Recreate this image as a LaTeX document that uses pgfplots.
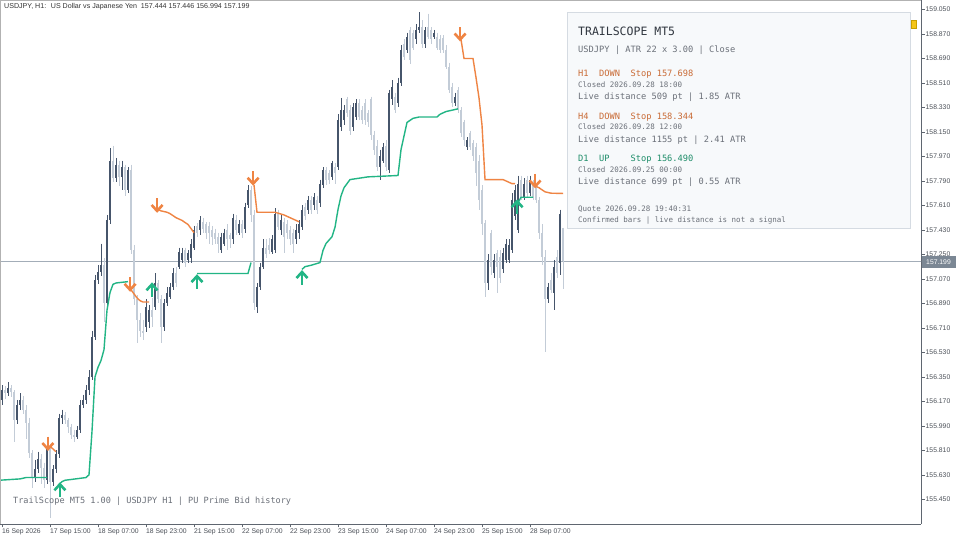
\documentclass[border=0pt]{standalone}
\usepackage{pgfplots}
\pgfplotsset{compat=1.18}
\usepackage{pgfplotstable}
\usepackage{fontspec}
\setmainfont{Liberation Sans}
\newfontfamily\mono{DejaVu Sans Mono}
\definecolor{bull}{HTML}{46556B}
\definecolor{bear}{HTML}{C3CCD7}
\definecolor{trailup}{HTML}{22B585}
\definecolor{traildn}{HTML}{EF8443}
\definecolor{pricecol}{HTML}{A3ADB8}
\definecolor{axiscol}{HTML}{5F6670}
\definecolor{labelcol}{HTML}{4A4F57}
\definecolor{panelfill}{HTML}{F7F9FB}
\definecolor{panelline}{HTML}{D5DBE2}
\definecolor{ptitle}{HTML}{30363F}
\definecolor{pgrey}{HTML}{6B7079}
\definecolor{porange}{HTML}{C96B36}
\definecolor{pgreen}{HTML}{1E8D69}
\definecolor{pricebox}{HTML}{7B8794}
\definecolor{ymark}{HTML}{F5C518}
\definecolor{ymarkd}{HTML}{C8A000}

\pgfdeclareplotmark{dnarrow}{%
  \pgfsetlinewidth{2.6pt}%
  \pgfpathmoveto{\pgfqpoint{0pt}{7pt}}%
  \pgfpathlineto{\pgfqpoint{0pt}{-5pt}}%
  \pgfusepathqstroke
  \pgfpathmoveto{\pgfqpoint{-5.5pt}{0.5pt}}%
  \pgfpathlineto{\pgfqpoint{0pt}{-5.5pt}}%
  \pgfpathlineto{\pgfqpoint{5.5pt}{0.5pt}}%
  \pgfusepathqstroke}
\pgfdeclareplotmark{uparrow}{%
  \pgfsetlinewidth{2.6pt}%
  \pgfpathmoveto{\pgfqpoint{0pt}{-7pt}}%
  \pgfpathlineto{\pgfqpoint{0pt}{5pt}}%
  \pgfusepathqstroke
  \pgfpathmoveto{\pgfqpoint{-5.5pt}{-0.5pt}}%
  \pgfpathlineto{\pgfqpoint{0pt}{5.5pt}}%
  \pgfpathlineto{\pgfqpoint{5.5pt}{-0.5pt}}%
  \pgfusepathqstroke}
\pgfdeclareplotmark{nothing}{}

\pgfplotstableread{
i o h l c
0 156.18 156.29 156.14 156.25
1 156.25 156.28 156.19 156.23
2 156.23 156.31 156.21 156.27
3 156.27 156.29 156.20 156.24
4 156.24 156.25 155.87 156.03
5 156.03 156.18 156.00 156.14
6 156.14 156.23 156.11 156.18
7 156.18 156.21 156.08 156.11
8 156.11 156.14 155.89 156.01
9 156.01 156.05 155.75 155.79
10 155.79 155.81 155.53 155.61
11 155.61 155.74 155.58 155.67
12 155.67 155.80 155.64 155.75
13 155.75 155.78 155.56 155.68
14 155.68 155.72 155.53 155.59
15 155.59 155.87 155.56 155.83
16 155.83 155.86 155.31 155.58
17 155.58 155.70 155.55 155.67
18 155.67 155.81 155.64 155.78
19 155.78 156.08 155.75 156.05
20 156.05 156.11 156.00 156.07
21 156.07 156.09 156.00 156.03
22 156.03 156.05 155.94 155.98
23 155.98 156.00 155.89 155.92
24 155.92 155.96 155.87 155.91
25 155.91 155.99 155.89 155.96
26 155.96 156.18 155.94 156.14
27 156.14 156.22 156.12 156.18
28 156.18 156.29 156.15 156.25
29 156.25 156.40 156.22 156.35
30 156.35 156.69 156.33 156.64
31 156.64 157.10 156.62 157.06
32 157.06 157.17 157.03 157.12
33 157.12 157.33 157.09 157.17
34 157.17 157.22 156.75 156.89
35 156.89 157.54 156.87 157.50
36 157.50 158.03 157.47 157.94
37 157.94 158.05 157.78 157.81
38 157.81 157.96 157.78 157.91
39 157.91 157.94 157.75 157.82
40 157.82 157.94 157.72 157.89
41 157.89 157.91 157.68 157.72
42 157.72 157.89 157.70 157.87
43 157.87 157.91 157.25 157.28
44 157.28 157.32 156.88 156.92
45 156.92 156.95 156.60 156.77
46 156.77 156.82 156.64 156.69
47 156.69 156.77 156.62 156.67
48 156.72 156.92 156.68 156.86
49 156.75 156.88 156.71 156.84
50 156.84 156.93 156.72 156.79
51 156.86 157.11 156.84 157.04
52 157.04 157.06 156.89 156.92
53 156.92 156.95 156.60 156.72
54 156.72 156.92 156.69 156.89
55 156.89 157.01 156.87 156.97
56 156.94 157.04 156.92 157.01
57 157.01 157.15 156.99 157.11
58 157.11 157.16 157.01 157.04
59 157.16 157.30 157.14 157.27
60 157.21 157.30 157.19 157.26
61 157.28 157.30 157.16 157.19
62 157.21 157.28 157.19 157.26
63 157.22 157.36 157.19 157.33
64 157.30 157.46 157.28 157.43
65 157.46 157.48 157.38 157.41
66 157.43 157.53 157.39 157.50
67 157.49 157.52 157.41 157.44
68 157.47 157.49 157.36 157.41
69 157.46 157.49 157.33 157.41
70 157.43 157.46 157.32 157.38
71 157.41 157.44 157.33 157.36
72 157.38 157.41 157.26 157.33
73 157.28 157.41 157.26 157.38
74 157.33 157.44 157.31 157.41
75 157.43 157.47 157.28 157.36
76 157.39 157.41 157.30 157.36
77 157.36 157.55 157.33 157.52
78 157.50 157.54 157.39 157.43
79 157.41 157.50 157.39 157.47
80 157.47 157.50 157.37 157.41
81 157.44 157.63 157.41 157.60
82 157.61 157.76 157.59 157.72
83 157.72 157.75 157.49 157.54
84 157.54 157.58 156.84 156.89
85 156.86 157.04 156.82 157.01
86 157.01 157.19 156.99 157.16
87 157.16 157.36 157.14 157.30
88 157.30 157.36 157.22 157.25
89 157.32 157.37 157.25 157.28
90 157.27 157.39 157.25 157.36
91 157.28 157.59 157.26 157.55
92 157.55 157.58 157.43 157.45
93 157.43 157.54 157.39 157.50
94 157.49 157.52 157.26 157.38
95 157.47 157.50 157.36 157.41
96 157.43 157.46 157.32 157.36
97 157.41 157.44 157.26 157.33
98 157.36 157.47 157.33 157.43
99 157.41 157.50 157.36 157.47
100 157.45 157.61 157.43 157.58
101 157.60 157.63 157.50 157.53
102 157.58 157.68 157.55 157.65
103 157.65 157.68 157.55 157.58
104 157.61 157.70 157.58 157.67
105 157.65 157.68 157.55 157.58
106 157.63 157.80 157.60 157.77
107 157.76 157.89 157.74 157.87
108 157.87 157.89 157.76 157.80
109 157.85 157.87 157.77 157.80
110 157.82 157.94 157.80 157.92
111 157.89 157.92 157.77 157.85
112 157.89 158.28 157.87 158.24
113 158.19 158.40 158.16 158.31
114 158.24 158.35 158.20 158.31
115 158.39 158.41 158.26 158.29
116 158.31 158.35 158.13 158.16
117 158.19 158.36 158.16 158.33
118 158.26 158.39 158.24 158.36
119 158.36 158.39 158.24 158.26
120 158.31 158.34 158.21 158.24
121 158.36 158.39 158.20 158.24
122 158.29 158.31 158.19 158.22
123 158.39 158.41 158.09 158.13
124 158.13 158.16 157.98 158.02
125 158.05 158.09 157.86 157.89
126 157.89 158.02 157.80 157.97
127 157.94 158.07 157.92 158.04
128 158.05 158.09 157.86 157.89
129 157.87 158.46 157.85 158.44
130 158.39 158.53 158.35 158.48
131 158.41 158.44 158.29 158.31
132 158.36 158.55 158.33 158.51
133 158.51 158.79 158.49 158.75
134 158.80 158.83 158.68 158.70
135 158.75 158.88 158.73 158.85
136 158.90 158.92 158.65 158.68
137 158.88 158.90 158.75 158.77
138 158.83 158.94 158.80 158.90
139 158.90 159.03 158.88 158.92
140 158.92 158.97 158.77 158.80
141 158.80 158.92 158.77 158.90
142 158.92 159.02 158.83 158.85
143 158.90 158.92 158.80 158.83
144 158.85 158.90 158.83 158.88
145 158.85 158.88 158.75 158.77
146 158.83 158.86 158.73 158.75
147 158.84 158.86 158.73 158.75
148 158.75 158.79 158.61 158.63
149 158.63 158.66 158.44 158.46
150 158.48 158.51 158.33 158.36
151 158.36 158.44 158.34 158.41
152 158.46 158.48 158.29 158.31
153 158.31 158.33 158.11 158.14
154 158.22 158.24 158.05 158.09
155 158.04 158.11 158.02 158.09
156 158.14 158.16 158.02 158.04
157 158.07 158.09 157.94 157.97
158 158.04 158.07 157.75 157.85
159 157.94 157.98 157.58 157.65
160 157.72 157.76 157.39 157.47
161 157.48 157.50 156.94 157.04
162 157.04 157.25 156.99 157.21
163 157.41 157.43 157.10 157.16
164 157.11 157.25 157.08 157.21
165 157.26 157.28 156.97 157.16
166 157.23 157.28 157.04 157.08
167 157.14 157.30 157.11 157.26
168 157.21 157.36 157.19 157.33
169 157.21 157.36 157.19 157.32
170 157.28 157.70 157.26 157.65
171 157.53 157.76 157.50 157.72
172 157.43 157.83 157.41 157.77
173 157.80 157.83 157.65 157.67
174 157.67 157.81 157.65 157.77
175 157.80 157.83 157.67 157.70
176 157.70 157.83 157.68 157.80
177 157.77 157.80 157.65 157.67
178 157.75 157.77 157.63 157.65
179 157.65 157.67 157.36 157.41
180 157.41 157.47 157.17 157.23
181 157.23 157.28 156.53 156.92
182 156.92 157.04 156.89 157.01
183 157.06 157.11 156.97 156.99
184 156.97 157.21 156.84 157.16
185 157.23 157.28 157.08 157.11
186 157.19 157.58 157.10 157.55
187 157.444 157.446 156.994 157.199
}\candles

\pgfplotsset{candle/.style={only marks, mark=nothing, forget plot}}

\begin{document}
\begin{tikzpicture}[x=1pt,y=1pt]
\useasboundingbox (0,0) rectangle (960,540);
\fill[white] (0,0) rectangle (960,540);
\begin{axis}[
  at={(0pt,16pt)}, anchor=south west,
  scale only axis, width=921pt, height=524pt,
  xmin=-0.667, xmax=306.33, ymin=155.2686, ymax=159.12,
  axis x line*=bottom, axis y line*=right,
  axis line style={-, draw=axiscol, line width=0.8pt},
  tick align=outside, major tick length=3.5pt,
  tick style={draw=axiscol, line width=0.6pt},
  xtick={0,16,32,48,64,80,96,112,128,144,160,176},
  xticklabels={16 Sep 2026,17 Sep 15:00,18 Sep 07:00,18 Sep 23:00,21 Sep 15:00,22 Sep 07:00,22 Sep 23:00,23 Sep 15:00,24 Sep 07:00,24 Sep 23:00,25 Sep 15:00,28 Sep 07:00},
  xticklabel style={font=\fontsize{6.8}{8}\selectfont, text=labelcol, anchor=north west, inner sep=0pt, yshift=-1pt},
  ytick={155.45,155.63,155.81,155.99,156.17,156.35,156.53,156.71,156.89,157.07,157.25,157.43,157.61,157.79,157.97,158.15,158.33,158.51,158.69,158.87,159.05},
  yticklabel pos=right,
  yticklabel style={font=\fontsize{6.8}{8}\selectfont, text=labelcol, anchor=west, inner sep=0pt, xshift=1pt,
    /pgf/number format/.cd, fixed, fixed zerofill, precision=3, 1000 sep={}, assume math mode=true},
  clip=true,
]
% current price line
\addplot[pricecol, line width=0.8pt, forget plot] coordinates {(-1,157.199) (307,157.199)};

% bear candles
\addplot[bear, candle,
  restrict expr to domain={\thisrow{c}-\thisrow{o}}{-10:0},
  error bars/.cd, y dir=minus, y explicit, error mark=none,
  error bar style={line width=0.9pt, draw=bear}]
  table[x=i, y=h, y error minus expr=\thisrow{h}-\thisrow{l}] {\candles};
\addplot[bear, candle,
  restrict expr to domain={\thisrow{c}-\thisrow{o}}{-10:0},
  error bars/.cd, y dir=minus, y explicit, error mark=none,
  error bar style={line width=2.5pt, draw=bear}]
  table[x=i, y=o, y error minus expr=\thisrow{o}-\thisrow{c}] {\candles};
% bull candles
\addplot[bull, candle,
  restrict expr to domain={\thisrow{c}-\thisrow{o}}{0.0001:10},
  error bars/.cd, y dir=minus, y explicit, error mark=none,
  error bar style={line width=0.9pt, draw=bull}]
  table[x=i, y=h, y error minus expr=\thisrow{h}-\thisrow{l}] {\candles};
\addplot[bull, candle,
  restrict expr to domain={\thisrow{c}-\thisrow{o}}{0.0001:10},
  error bars/.cd, y dir=minus, y explicit, error mark=none,
  error bar style={line width=2.5pt, draw=bull}]
  table[x=i, y=c, y error minus expr=\thisrow{c}-\thisrow{o}] {\candles};

% up trail segments
\addplot[trailup, line width=1.4pt] coordinates {(-1,155.59) (6,155.60) (8,155.61) (15,155.61)};
\addplot[trailup, line width=1.4pt] coordinates {(19,155.56) (20,155.58) (21,155.59) (28,155.61) (29,155.63) (30,155.95) (31,156.35) (32,156.42) (33,156.47) (34,156.55) (35,156.84) (36,156.97) (37,157.03) (38,157.04) (42,157.05)};
\addplot[trailup, line width=1.4pt] coordinates {(65,157.11) (82,157.11) (83,157.19)};
\addplot[trailup, line width=1.4pt] coordinates {(100,157.14) (101,157.16) (103,157.17) (106,157.19) (107,157.28) (108,157.33) (110,157.38) (111,157.45) (112,157.58) (113,157.68) (114,157.74) (116,157.80) (119,157.81) (122,157.82) (132,157.83) (133,158.02) (134,158.12) (135,158.22) (137,158.25) (139,158.26) (145,158.26) (146,158.28) (148,158.30) (150,158.31) (152,158.32)};
\addplot[trailup, line width=1.4pt] coordinates {(172,157.63) (173,157.67) (177,157.67)};
% down trail segments
\addplot[traildn, line width=1.4pt] coordinates {(16,155.84) (17,155.82) (18,155.80)};
\addplot[traildn, line width=1.4pt] coordinates {(43,156.99) (44,156.96) (45,156.93) (46,156.91) (47,156.90) (49,156.90)};
\addplot[traildn, line width=1.4pt] coordinates {(52,157.58) (53,157.57) (55,157.56) (56,157.55) (58,157.52) (60,157.50) (62,157.47) (63,157.44) (64,157.41)};
\addplot[traildn, line width=1.4pt] coordinates {(84,157.76) (85,157.56) (91,157.56) (94,157.54) (97,157.51) (99,157.49)};
\addplot[traildn, line width=1.4pt] coordinates {(153,158.83) (154,158.69) (157,158.69) (158,158.55) (159,158.40) (160,158.20) (161,157.80) (167,157.80) (168,157.79) (170,157.77) (171,157.77)};
\addplot[traildn, line width=1.4pt] coordinates {(178,157.75) (179,157.74) (181,157.71) (183,157.70) (187,157.698)};

% signal arrows
\addplot[traildn, only marks, mark=dnarrow] coordinates {(15.3,155.86) (42.7,157.03) (51.7,157.61) (83.7,157.81) (152.7,158.87) (177.7,157.79)};
\addplot[trailup, only marks, mark=uparrow] coordinates {(19.3,155.52) (50,156.99) (65,157.05) (100,157.08) (171.7,157.60)};
\end{axis}

% chart frame (top and left)
\draw[draw=gray!60, line width=0.7pt] (0.4,16) -- (0.4,539.6) -- (921,539.6);

% header
\node[anchor=base west, inner sep=0pt, text=black!80] at (4,531.5)
  {\fontsize{7.1}{8}\selectfont USDJPY, H1:~ US Dollar vs Japanese Yen~ 157.444 157.446 156.994 157.199};

% bottom-left caption
\node[anchor=base west, inner sep=0pt, text=pgrey] at (13,36.5)
  {\mono\fontsize{8.55}{10}\selectfont TrailScope MT5 1.00 | USDJPY H1 | PU Prime Bid history};

% price label
\fill[pricebox] (921.5,283.5) rectangle (956,271.5);
\node[inner sep=0pt, text=white] at (938.5,277.5) {\fontsize{6.8}{8}\selectfont 157.199};

% yellow marker
\filldraw[fill=ymark, draw=ymarkd, line width=0.4pt] (911,520) rectangle (916,512);

% info panel
\filldraw[fill=panelfill, draw=panelline, line width=0.8pt] (567,528) rectangle (910,312);
\begin{scope}[every node/.style={anchor=base west, inner sep=0pt}]
\node[text=ptitle] at (578,504.5) {\mono\fontsize{11.5}{13}\selectfont TRAILSCOPE MT5};
\node[text=pgrey] at (578,487.3) {\mono\fontsize{8.7}{10}\selectfont USDJPY | ATR 22 x 3.00 | Close};
\node[text=porange] at (578,463.3) {\mono\fontsize{8.7}{10}\selectfont H1~~DOWN~~Stop 157.698};
\node[text=pgrey] at (578,452.3) {\mono\fontsize{7.5}{9}\selectfont Closed 2026.09.28 18:00};
\node[text=pgrey] at (578,440) {\mono\fontsize{8.7}{10}\selectfont Live distance 509 pt | 1.85 ATR};
\node[text=porange] at (578,420.7) {\mono\fontsize{8.7}{10}\selectfont H4~~DOWN~~Stop 158.344};
\node[text=pgrey] at (578,410) {\mono\fontsize{7.5}{9}\selectfont Closed 2026.09.28 12:00};
\node[text=pgrey] at (578,397.7) {\mono\fontsize{8.7}{10}\selectfont Live distance 1155 pt | 2.41 ATR};
\node[text=pgreen] at (578,378) {\mono\fontsize{8.7}{10}\selectfont D1~~UP~~~~Stop 156.490};
\node[text=pgrey] at (578,367) {\mono\fontsize{7.5}{9}\selectfont Closed 2026.09.25 00:00};
\node[text=pgrey] at (578,355) {\mono\fontsize{8.7}{10}\selectfont Live distance 699 pt | 0.55 ATR};
\node[text=pgrey] at (578,328) {\mono\fontsize{7.5}{9}\selectfont Quote 2026.09.28 19:40:31};
\node[text=pgrey] at (578,317) {\mono\fontsize{7.5}{9}\selectfont Confirmed bars | live distance is not a signal};
\end{scope}
\end{tikzpicture}
\end{document}
